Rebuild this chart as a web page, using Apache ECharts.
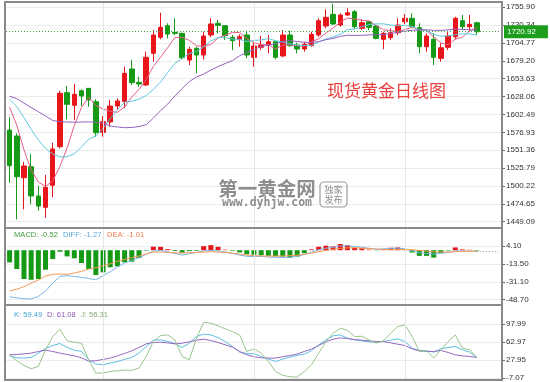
<!DOCTYPE html>
<html><head><meta charset="utf-8">
<script src="https://cdn.jsdelivr.net/npm/echarts@6/dist/echarts.min.js"></script>
<style>html,body{margin:0;padding:0;background:#fff}#c{width:550px;height:382px}</style>
</head><body><div id="c"></div>
<script>
const days = Array.from({length: 69}, (_, i) => 'D' + (i + 1));
const opens = [1580.3,1571.7,1512.0,1527.8,1485.9,1469.7,1501.2,1556.4,1633.7,1615.6,1636.5,1639.9,1620.8,1577.0,1591.7,1614.6,1620.8,1667.6,1648.5,1644.7,1690.0,1712.9,1729.5,1720.1,1718.6,1680.4,1697.2,1687.6,1716.2,1732.9,1729.5,1712.9,1710.0,1716.2,1684.3,1698.6,1701.9,1706.6,1686.2,1716.2,1701.9,1696.2,1700.9,1716.2,1729.1,1745.8,1730.5,1744.8,1749.5,1725.8,1735.1,1729.1,1710.0,1712.3,1719.5,1735.1,1740.1,1726.7,1699.5,1710.0,1682.9,1698.6,1713.8,1736.7,1728.1,1733.8];
const closes = [1529.2,1513.5,1528.8,1485.9,1471.5,1498.3,1553.1,1632.8,1617.0,1631.4,1628.9,1623.2,1576.4,1592.2,1614.6,1621.8,1661.4,1648.0,1646.1,1684.3,1716.2,1727.2,1717.6,1718.6,1683.7,1695.7,1687.6,1714.8,1732.0,1730.1,1715.2,1708.0,1713.8,1687.6,1700.5,1701.9,1706.6,1684.3,1716.2,1700.9,1696.2,1702.9,1717.2,1736.7,1741.5,1732.0,1744.8,1748.1,1728.1,1733.8,1727.2,1711.4,1718.6,1719.5,1730.5,1740.1,1728.1,1699.5,1714.8,1684.3,1698.0,1714.8,1740.1,1728.1,1731.5,1720.92];
const lows = [1504.9,1452.5,1466.8,1474.0,1464.8,1454.8,1484.0,1554.1,1595.6,1594.6,1614.6,1613.6,1570.7,1570.7,1585.0,1608.9,1611.8,1644.7,1642.2,1643.2,1678.0,1710.0,1711.4,1716.2,1681.4,1673.3,1661.4,1681.4,1712.9,1718.6,1709.0,1694.7,1699.5,1682.9,1670.9,1694.7,1690.0,1681.4,1684.3,1699.5,1690.0,1692.3,1699.5,1713.8,1725.8,1730.5,1728.1,1743.4,1724.4,1723.4,1723.4,1710.0,1695.8,1709.0,1716.2,1732.0,1725.8,1690.0,1692.3,1673.3,1678.0,1694.7,1710.0,1723.4,1720.9,1716.2];
const highs = [1598.5,1575.6,1534.9,1545.9,1500.6,1515.9,1562.1,1636.5,1643.2,1646.1,1638.5,1640.4,1624.2,1600.3,1623.2,1625.6,1670.9,1680.4,1656.5,1692.3,1723.4,1748.1,1733.0,1740.1,1719.5,1699.5,1699.5,1720.9,1740.1,1737.7,1730.5,1716.2,1717.2,1722.4,1706.6,1714.8,1716.2,1708.0,1723.4,1722.4,1705.2,1706.6,1720.9,1740.1,1752.9,1761.0,1747.2,1754.4,1752.0,1738.7,1736.6,1730.5,1721.0,1725.8,1740.1,1746.2,1747.2,1733.0,1718.6,1718.6,1704.3,1720.9,1742.4,1744.8,1744.8,1735.2];
const ma5 = [1613.0,1587.0,1552.0,1523.0,1505.8,1499.6,1507.5,1528.3,1554.5,1586.5,1612.6,1626.7,1615.4,1610.4,1607.1,1605.6,1613.3,1627.6,1638.4,1652.3,1671.2,1684.4,1698.3,1712.8,1712.7,1708.6,1700.6,1700.1,1702.8,1712.0,1715.9,1720.0,1719.8,1710.9,1705.0,1702.4,1702.1,1696.2,1701.9,1702.0,1700.8,1700.1,1706.7,1710.8,1718.9,1726.1,1734.4,1740.6,1738.9,1737.4,1736.4,1729.7,1723.8,1722.1,1721.4,1724.0,1727.4,1723.5,1722.6,1713.4,1704.9,1702.3,1710.4,1713.1,1722.5,1727.1];
const ma10 = [1624.0,1614.0,1598.0,1581.0,1566.0,1554.0,1546.0,1542.0,1542.0,1546.2,1556.1,1567.1,1571.9,1582.5,1596.8,1609.1,1620.0,1621.5,1624.4,1629.7,1638.4,1648.8,1662.9,1675.6,1682.5,1689.9,1692.5,1699.2,1707.8,1712.4,1712.3,1710.3,1710.0,1706.9,1708.5,1709.2,1711.1,1708.0,1706.4,1703.5,1701.6,1701.1,1701.4,1706.3,1710.4,1713.5,1717.3,1723.7,1724.8,1728.1,1731.2,1732.1,1732.2,1730.5,1729.4,1730.2,1728.5,1723.7,1722.4,1717.4,1714.5,1714.8,1717.0,1717.8,1717.9,1716.0];
const ma20 = [1628.7,1625.2,1618.7,1612.5,1606.5,1600.3,1593.9,1592.2,1591.7,1591.5,1591.7,1592.0,1591.3,1590.3,1586.0,1584.6,1583.6,1583.9,1585.3,1587.9,1597.3,1608.0,1617.4,1629.1,1639.7,1649.5,1656.3,1660.4,1666.1,1671.1,1675.4,1679.6,1686.5,1691.3,1695.5,1699.6,1701.8,1703.6,1707.1,1708.0,1707.0,1705.7,1705.7,1706.6,1709.5,1711.4,1714.2,1715.9,1715.6,1715.8,1716.4,1716.6,1716.8,1718.4,1719.9,1721.9,1722.9,1723.7,1723.6,1722.8,1722.9,1723.5,1724.6,1724.2,1723.7,1723.1];
const macdHist = [-12.0,-18.5,-28.4,-29.1,-28.4,-19.2,-8.7,-1.5,-6.1,-8.0,-12.6,-18.5,-24.5,-21.8,-16.9,-15.9,-12.0,-11.3,-7.7,-0.5,3.5,3.3,1.0,-0.8,-2.5,-1.0,-0.6,4.0,5.0,3.3,0.5,-0.6,-2.2,-4.0,-4.5,-5.0,-5.5,-6.0,-6.3,-7.4,-6.3,-3.0,0.8,3.4,4.4,3.8,6.1,5.1,2.4,1.8,0.5,-0.2,1.1,2.4,2.7,1.0,-2.3,-5.6,-5.6,-7.3,-3.0,-0.5,2.7,0.8,0.4,-0.52];
const diffLine = [-45.9,-46.9,-47.8,-48.1,-45.5,-40.3,-32.4,-25.8,-25.1,-25.8,-26.8,-27.8,-29.1,-25.1,-21.2,-16.6,-12.7,-10.0,-7.4,-4.1,-0.8,-0.2,-1.5,-3.2,-4.8,-3.5,-2.2,-0.8,-0.2,-0.8,-1.8,-3.2,-4.8,-6.0,-6.4,-6.0,-6.8,-7.0,-7.2,-7.0,-6.0,-4.2,-2.0,0.5,2.0,2.8,4.2,4.5,3.6,3.0,1.9,1.0,1.3,1.8,2.1,1.3,-0.7,-2.5,-3.2,-4.0,-3.0,-2.2,-0.5,-0.8,-1.0,-1.27];
const deaLine = [-40.3,-38.3,-36.0,-32.4,-29.4,-25.5,-23.8,-23.5,-23.8,-22.5,-20.8,-18.6,-17.3,-15.3,-13.4,-11.0,-9.0,-7.4,-5.7,-3.8,-1.8,-1.8,-2.2,-2.5,-2.8,-2.5,-2.2,-1.8,-1.5,-1.8,-2.2,-2.8,-3.8,-4.8,-5.4,-5.7,-5.8,-5.8,-5.7,-5.4,-4.9,-4.0,-2.8,-1.5,-0.2,0.9,1.8,2.3,2.4,2.1,1.6,1.1,0.7,0.6,0.7,0.8,0.5,-0.2,-0.9,-1.5,-1.8,-1.9,-1.5,-1.2,-1.1,-1.01];
const kLine = [36.0,32.2,31.6,32.9,41.2,50.3,56.1,59.9,52.2,47.0,44.5,28.4,20.0,18.7,21.9,25.1,29.0,32.9,41.2,54.1,66.4,67.0,63.8,59.9,52.2,60.6,73.5,78.0,76.7,71.5,63.8,54.1,43.2,40.6,39.9,34.8,29.6,25.1,29.6,33.5,36.7,39.3,45.8,57.4,67.0,74.8,76.7,70.3,67.0,65.1,63.2,62.5,63.8,66.4,69.0,63.8,50.9,45.8,45.8,43.2,49.6,52.2,54.1,47.7,43.2,32.9];
const dLine = [38.0,38.6,39.9,41.2,44.5,47.0,44.5,41.2,38.6,36.0,32.2,25.7,26.4,29.0,31.6,36.0,40.6,45.8,52.2,59.3,61.9,62.5,61.2,59.3,60.6,63.2,66.4,68.3,65.7,61.9,57.4,52.9,44.5,38.0,34.2,32.2,31.6,31.6,34.2,36.7,39.3,44.5,49.0,56.1,63.2,68.3,70.9,69.6,67.7,66.4,65.1,63.8,63.8,61.2,58.6,56.1,49.6,45.8,44.5,44.5,46.4,42.5,38.0,36.0,34.8,32.9];
const jLine = [38.0,26.4,17.4,10.9,15.4,47.7,73.5,87.6,65.1,62.5,60.6,28.4,2.5,2.5,5.8,7.0,8.3,7.7,12.2,34.8,63.8,75.4,76.7,67.0,34.8,28.4,70.3,101.2,99.3,94.2,88.4,83.2,76.7,44.5,49.6,41.2,25.1,5.8,-2.0,-4.6,-5.2,5.8,18.7,41.2,63.8,79.9,89.6,85.7,73.5,74.1,67.0,60.6,65.1,79.9,92.9,96.1,73.5,44.5,45.8,31.6,47.7,63.8,76.7,50.9,47.7,32.9];
const priceTicks = [1449.09,1474.65,1500.22,1525.79,1551.36,1576.93,1602.49,1628.06,1653.63,1679.20,1704.77,1730.34,1755.90];
const macdTicks = [-48.70,-31.10,-13.50,4.10];
const kdjTicks = [-7.07,27.95,62.97,97.99];
const lastPrice = 1720.92;
const splitDays = [13, 34, 55];
const header = {macd: -0.52, diff: -1.27, dea: -1.01, k: 59.49, d: 61.08, j: 56.31};

const UP = '#e8161b', DOWN = '#149a14';
const FONT = 'Liberation Sans';
const chart = echarts.init(document.getElementById('c'), null, {renderer: 'canvas'});

const candles = opens.map((o, i) => [o, closes[i], lows[i], highs[i]]);
const vLines = splitDays.map(d => ({xAxis: d, label: {show: false}, lineStyle: {color: '#e6e6e6', width: 1, type: 'solid'}}));

function yAx(gi, min, max, ticks) {
  return {
    type: 'value', gridIndex: gi, position: 'right', min: min, max: max, scale: true,
    axisLine: {show: false},
    axisTick: {show: true, length: 3, lineStyle: {color: '#666'}, customValues: ticks},
    axisLabel: {customValues: ticks, formatter: v => v.toFixed(2), color: '#333', fontSize: 8, fontFamily: FONT, margin: 4},
    splitLine: {show: true, lineStyle: {color: '#ececec', width: 1}}
  };
}
function xAx(gi) {
  return {type: 'category', gridIndex: gi, data: days, boundaryGap: true,
    axisLine: {show: false}, axisTick: {show: false}, axisLabel: {show: false}, splitLine: {show: false}};
}
function line(name, data, color, xi, yi, extra) {
  return Object.assign({name, type: 'line', data, xAxisIndex: xi, yAxisIndex: yi, symbol: 'none', smooth: false,
    clip: false, lineStyle: {color, width: 1}, itemStyle: {color}, silent: true, z: 3}, extra || {});
}
function hdr(x, y, text, color) {
  return {type: 'text', x, y, style: {text, fill: color, fontSize: 7.6, fontFamily: FONT, verticalAlign: 'middle'}, z: 50, silent: true};
}

const option = {
  animation: false,
  grid: [
    {left: 6, right: 48, top: 3, height: 225},
    {left: 6, right: 48, top: 228, height: 77},
    {left: 6, right: 48, top: 305, height: 75}
  ],
  xAxis: [xAx(0), xAx(1), xAx(2)],
  yAxis: [yAx(0, 1440.1, 1762.0, priceTicks), yAx(1, -53.98, 21.87, macdTicks), yAx(2, -10.36, 134.76, kdjTicks)],
  series: [
    {type: 'candlestick', data: candles, xAxisIndex: 0, yAxisIndex: 0, barWidth: 5, clip: false, silent: true,
      itemStyle: {color: UP, color0: DOWN, borderColor: UP, borderColor0: DOWN, borderWidth: 1},
      markLine: {silent: true, symbol: ['none', 'none'], animation: false,
        data: vLines.concat([{yAxis: lastPrice, lineStyle: {color: '#3aa83a', type: [1, 2], width: 1},
          label: {show: true, position: 'end', formatter: lastPrice.toFixed(2), backgroundColor: '#1c9e1c', color: '#fff',
            padding: [3, 12, 2, 3], fontSize: 8, fontFamily: FONT, distance: 2}}])}},
    line('MA5', ma5, '#e45c86', 0, 0),
    line('MA10', ma10, '#5ec8dc', 0, 0),
    line('MA20', ma20, '#9560c0', 0, 0),
    {type: 'bar', data: macdHist.map(v => ({value: v, itemStyle: {color: v >= 0 ? UP : DOWN}})), xAxisIndex: 1, yAxisIndex: 1,
      barWidth: 5, silent: true,
      markLine: {silent: true, symbol: ['none', 'none'], animation: false, data: vLines.concat([
        [{xAxis: 65, yAxis: header.dea, lineStyle: {color: '#9a9a9a', type: [1, 2], width: 1}, label: {show: false}}, {xAxis: 68, yAxis: header.dea}]
      ])}},
    line('DIFF', diffLine, '#7ab6e6', 1, 1),
    line('DEA', deaLine, '#f39a55', 1, 1),
    line('K', kLine, '#5cbfe0', 2, 2, {markLine: {silent: true, symbol: ['none', 'none'], animation: false, data: vLines}}),
    line('D', dLine, '#9467c2', 2, 2),
    line('J', jLine, '#98c48c', 2, 2)
  ],
  graphic: [
    {type: 'rect', shape: {x: 5, y: 2, width: 497, height: 378}, style: {fill: 'none', stroke: '#8a8a8a', lineWidth: 2}, z: 100, silent: true},
    {type: 'line', shape: {x1: 5, y1: 228, x2: 502, y2: 228}, style: {stroke: '#8a8a8a', lineWidth: 2}, z: 100, silent: true},
    {type: 'line', shape: {x1: 5, y1: 305, x2: 502, y2: 305}, style: {stroke: '#8a8a8a', lineWidth: 2}, z: 100, silent: true},
    {type: 'text', x: 386.5, y: 90.5, style: {text: '现货黄金日线图', fill: '#e8413f', fontSize: 17, fontFamily: 'Noto Sans CJK SC', align: 'center', verticalAlign: 'middle'}, z: 50, silent: true},
    {type: 'text', x: 267, y: 189, style: {text: '第一黄金网', fill: '#8e8e8e', fontSize: 19.5, fontWeight: 'bold', fontFamily: 'Noto Sans CJK SC', align: 'center', verticalAlign: 'middle'}, z: 50, silent: true},
    {type: 'text', x: 267, y: 203, style: {text: 'www.dyhjw.com', fill: '#8e8e8e', fontSize: 11.5, fontWeight: 'bold', fontFamily: 'DejaVu Sans Mono', align: 'center', verticalAlign: 'middle'}, z: 50, silent: true},
    {type: 'rect', shape: {x: 320, y: 182, width: 27, height: 25, r: 4}, style: {fill: 'none', stroke: '#9a9a9a', lineWidth: 1.2}, z: 50, silent: true},
    {type: 'text', x: 333.5, y: 189.5, style: {text: '独家', fill: '#8e8e8e', fontSize: 9, fontFamily: 'Noto Sans CJK SC', align: 'center', verticalAlign: 'middle'}, z: 50, silent: true},
    {type: 'text', x: 333.5, y: 200, style: {text: '发布', fill: '#8e8e8e', fontSize: 9, fontFamily: 'Noto Sans CJK SC', align: 'center', verticalAlign: 'middle'}, z: 50, silent: true},
    hdr(14, 234.5, 'MACD: ' + header.macd.toFixed(2), '#3d9a3d'),
    hdr(63, 234.5, 'DIFF: ' + header.diff.toFixed(2), '#5ea8dc'),
    hdr(107, 234.5, 'DEA: ' + header.dea.toFixed(2), '#f07a52'),
    hdr(14, 314.5, 'K: ' + header.k.toFixed(2), '#3fa4d4'),
    hdr(47, 314.5, 'D: ' + header.d.toFixed(2), '#8a5cb4'),
    hdr(81, 314.5, 'J: ' + header.j.toFixed(2), '#86a86e')
  ]
};
chart.setOption(option);
</script></body></html>
